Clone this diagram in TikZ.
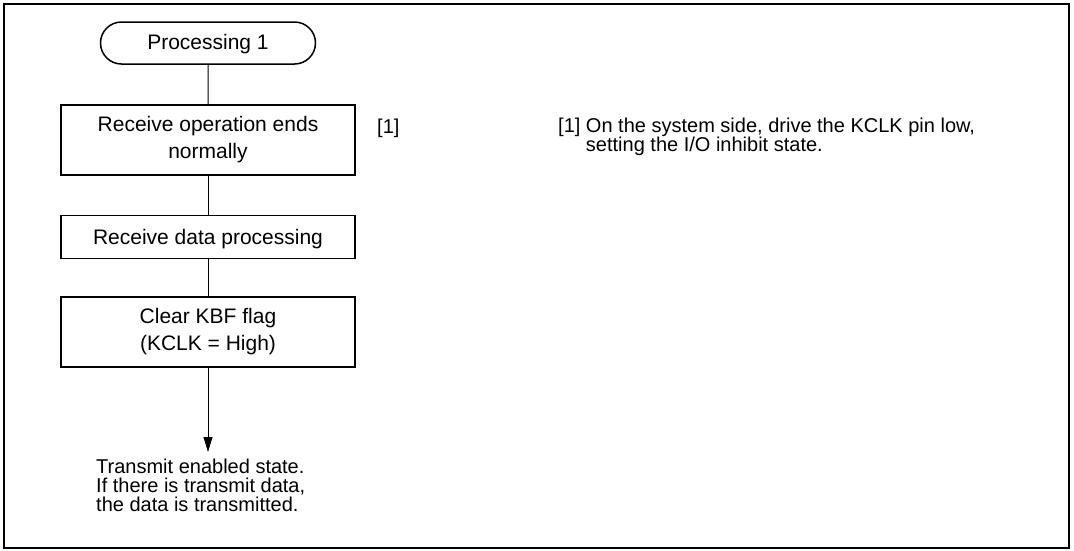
\documentclass[tikz,border=0pt]{standalone}
\usepackage{fontspec}
\setmainfont{Liberation Sans}
\usetikzlibrary{arrows.meta,positioning,shapes.misc}

\begin{document}
\begin{tikzpicture}[
  x=1pt, y=-1pt,
  box/.style={draw, line width=1.5pt, minimum width=294pt, align=center, inner sep=0pt, execute at begin node=\rule{0pt}{20pt}, font=\fontsize{21}{27}\selectfont},
  term/.style={draw, line width=1.5pt, rounded rectangle, minimum width=215pt, minimum height=42pt, inner sep=0pt, text height=18pt, font=\fontsize{21}{24}\selectfont},
  link/.style={line width=1pt},
  txt/.style={align=left, inner sep=0pt, font=\fontsize{20}{19}\selectfont}
]
  \useasboundingbox (0,0) rectangle (1074,550);
  % Frame
  \draw[line width=1.6pt] (4,4) rectangle (1069,548);

  % Flow
  \node[term] (start) at (208,43) {Processing 1};
  \node[box, minimum height=70pt] (recv) at (208,140) {Receive operation ends\\normally};
  \node[box, minimum height=43pt] (proc) at (208,237) {Receive data processing};
  \node[box, minimum height=70pt] (clear) at (208,332) {Clear KBF flag\\(KCLK = High)};
  \coordinate (tip) at (208,452);
  \node[txt, anchor=north west] (state) at (96,459) {Transmit enabled state.\\If there is transmit data,\\the data is transmitted.};

  \draw[link] (start) -- (recv);
  \draw[link] (recv) -- (proc);
  \draw[link] (proc) -- (clear);
  \draw[link, -{Triangle[length=15pt, width=9pt]}] (clear) -- (tip);

  % Notes
  \node[txt, anchor=base west] (ref) at (377,133) {[1]};
  \node[txt, anchor=north west] (note) at (558,118) {[1] On the system side, drive the KCLK pin low,\\\phantom{[1] }setting the I/O inhibit state.};
\end{tikzpicture}
\end{document}
